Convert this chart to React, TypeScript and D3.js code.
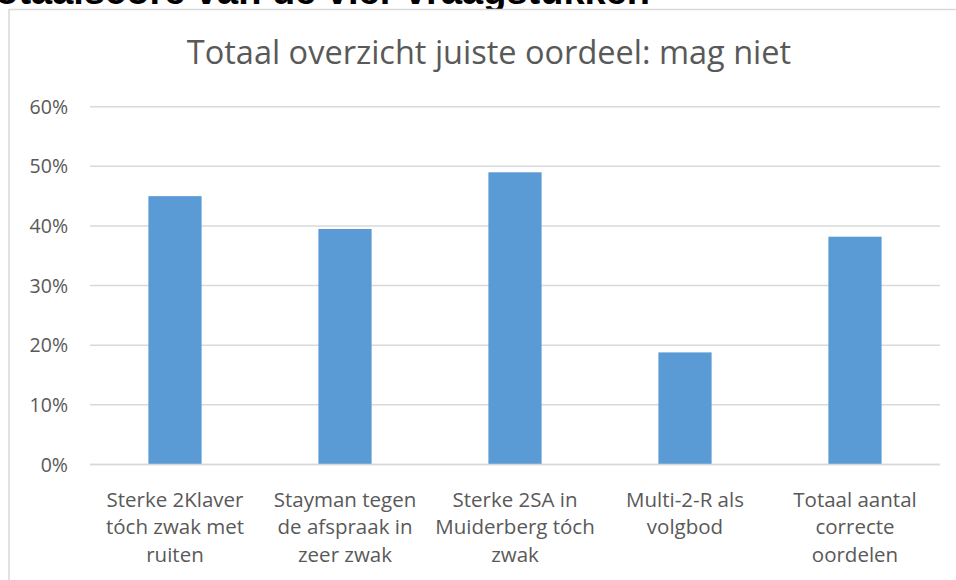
import React, { useEffect } from "react";
import * as d3 from "d3";

const categories: string[][] = [
  ["Sterke 2Klaver", "tóch zwak met", "ruiten"],
  ["Stayman tegen", "de afspraak in", "zeer zwak"],
  ["Sterke 2SA in", "Muiderberg tóch", "zwak"],
  ["Multi-2-R als", "volgbod"],
  ["Totaal aantal", "correcte", "oordelen"],
];
const values: number[] = [0.450, 0.395, 0.490, 0.188, 0.382];
const yTicks: number[] = [0, 0.1, 0.2, 0.3, 0.4, 0.5, 0.6];
const title = "Totaal overzicht juiste oordeel: mag niet";
const topText = "Totaalscore van de vier vraagstukken";

const W = 956;
const H = 580;
const FONT = "'Open Sans', 'Noto Sans', sans-serif";

export default function App() {
  useEffect(() => {
    document.body.style.margin = "0";
  }, []);

  const x = d3
    .scaleBand<number>()
    .domain(d3.range(values.length))
    .range([90, 940])
    .paddingInner(0.687)
    .paddingOuter(0.3435);
  const y = d3.scaleLinear().domain([0, 0.6]).range([464.5, 106.7]);
  const fmt = d3.format(".0%");

  return (
    <svg width={W} height={H} style={{ display: "block" }}>
      <rect x={0} y={0} width={W} height={H} fill="#ffffff" />
      <text
        x={650}
        y={4}
        textAnchor="end"
        fontFamily="'Liberation Sans', Arial, sans-serif"
        fontWeight="bold"
        fontSize={38}
        fill="#000"
      >
        {topText}
      </text>
      <rect
        x={9}
        y={9.5}
        width={W + 10}
        height={H + 10}
        fill="#fff"
        stroke="#d9d9d9"
        strokeWidth={1.5}
      />
      <text
        x={489}
        y={64.3}
        textAnchor="middle"
        fontFamily={FONT}
        fontSize={32.5}
        fill="#595959"
      >
        {title}
      </text>
      {yTicks.map((t) => (
        <g key={t}>
          <line
            x1={90}
            x2={940}
            y1={y(t)}
            y2={y(t)}
            stroke="#d9d9d9"
            strokeWidth={1.5}
          />
          <text
            x={68}
            y={y(t)}
            dy="0.36em"
            textAnchor="end"
            fontFamily={FONT}
            fontSize={19.5}
            fill="#595959"
          >
            {fmt(t)}
          </text>
        </g>
      ))}
      {values.map((v, i) => (
        <rect
          key={i}
          x={x(i)}
          y={y(v)}
          width={x.bandwidth()}
          height={y(0) - y(v)}
          fill="#5b9bd5"
        />
      ))}
      <line x1={90} x2={940} y1={y(0)} y2={y(0)} stroke="#d9d9d9" strokeWidth={1.5} />
      {categories.map((lines, i) => (
        <text
          key={i}
          x={(x(i) as number) + x.bandwidth() / 2}
          textAnchor="middle"
          fontFamily={FONT}
          fontSize={20.5}
          fill="#595959"
        >
          {lines.map((l, j) => (
            <tspan key={j} x={(x(i) as number) + x.bandwidth() / 2} y={506.5 + j * 27.5}>
              {l}
            </tspan>
          ))}
        </text>
      ))}
    </svg>
  );
}
